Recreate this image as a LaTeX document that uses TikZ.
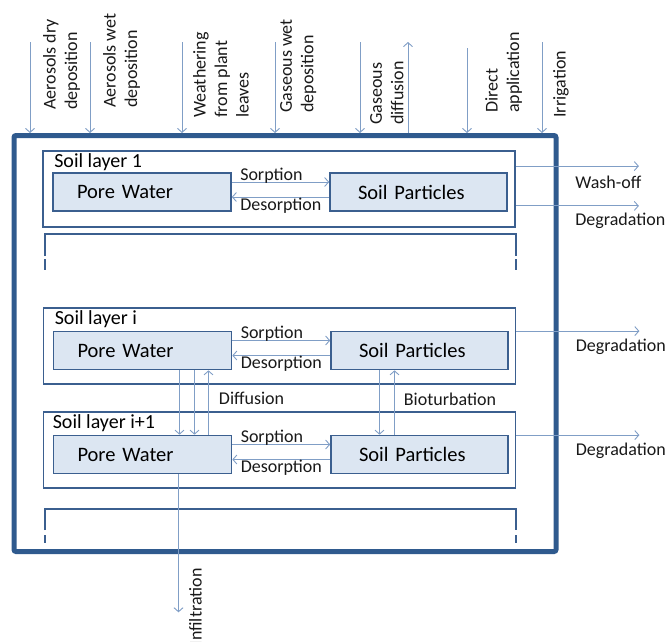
\documentclass[tikz,border=0pt]{standalone}
\usepackage{fontspec}
\setmainfont{Carlito}
\usetikzlibrary{arrows.meta,positioning,calc}
\definecolor{frameblue}{HTML}{2F5A8E}
\definecolor{layerline}{HTML}{3B5F8F}
\definecolor{poolfill}{HTML}{DCE6F2}
\definecolor{flowline}{HTML}{809EC6}

\begin{document}
\begin{tikzpicture}[x=1pt,y=-1pt,>={Straight Barb[length=4pt,width=9pt]},
 font=\fontsize{18}{21.5}\selectfont,
 soilframe/.style={draw=frameblue,line width=5pt,rounded corners=2pt,minimum width=542pt,minimum height=416pt},
 layerbox/.style={draw=layerline,line width=1.8pt,minimum width=472pt,minimum height=76pt},
 pool/.style={draw=layerline,line width=1.6pt,fill=poolfill,minimum height=38pt,align=left,font=\fontsize{20.5}{24}\selectfont},
 water/.style={pool,inner xsep=24pt,text width=130pt},
 grains/.style={pool,inner xsep=28pt,text width=121pt},
 layertitle/.style={anchor=base west,inner sep=0pt,font=\fontsize{20}{24}\selectfont},
 flow/.style={->,flowline,line width=0.9pt},
 flowtag/.style={inner sep=0pt,text=black!90},
 bracketline/.style={layerline,line width=1.8pt}]
\useasboundingbox (0,0) rectangle (665,641);

% soil column and layers
\node[soilframe] (soil) at (285,343.5) {};
\node[layerbox] (layer1) at (279,189) {};
\node[layerbox] (layeri) at (279.5,346) {};
\node[layerbox] (layerj) at (279.5,450) {};
\node[layertitle] (t1) at ([xshift=12pt,yshift=-17.5pt]layer1.north west) {Soil layer 1};
\node[layertitle] (ti) at ([xshift=12pt,yshift=-17.5pt]layeri.north west) {Soil layer i};
\node[layertitle] (tj) at ([xshift=10pt,yshift=-17.5pt]layerj.north west) {Soil layer i+1};

\node[water] (pw1) at (142,192) {Pore Water};
\node[grains] (sp1) at (418.5,192) {Soil Particles};
\node[water] (pwi) at (142.5,350.5) {Pore Water};
\node[grains] (spi) at (419.5,350.5) {Soil Particles};
\node[water] (pwj) at (142.5,454.5) {Pore Water};
\node[grains] (spj) at (419.5,454.5) {Soil Particles};

% open layers below
\draw[bracketline] (45,256) |- (516,234) -- (516,256);
\draw[bracketline] (45,259) -- (45,270) (516,259) -- (516,270);
\draw[bracketline] (45,530) |- (516,509) -- (516,530);
\draw[bracketline] (45,535) -- (45,543) (516,535) -- (516,543);

% sorption / desorption
\foreach \w/\s in {pw1/sp1,pwi/spi,pwj/spj}{
  \draw[flow] ([yshift=10pt]\w.east) -- node[pos=0,flowtag,anchor=base west,xshift=8pt,yshift=2pt] (sorb\w) {Sorption} ([yshift=10pt]\s.west);
  \draw[flow] ([yshift=-5pt]\s.west) -- node[pos=1,flowtag,anchor=base west,xshift=8pt,yshift=-13pt] (desorb\w) {Desorption} ([yshift=-5pt]\w.east);
}

% exchange between layers
\draw[flow] ([xshift=37pt]pwi.south) -- ([xshift=37pt]pwj.north);
\draw[flow] ([xshift=52pt]pwi.south) -- ([xshift=52pt]pwj.north);
\draw[flow] ([xshift=66pt]pwj.north) -- node[flowtag,anchor=base west,xshift=10pt,yshift=-1.5pt] (diff) {Diffusion} ([xshift=66pt]pwi.south);
\draw[flow] ([xshift=-40pt]spi.south) -- ([xshift=-40pt]spj.north);
\draw[flow] ([xshift=-25pt]spj.north) -- node[flowtag,anchor=base west,xshift=9pt,yshift=-2.5pt] (biot) {Bioturbation} ([xshift=-25pt]spi.south);

% losses to the right
\draw[flow] ([yshift=-16pt]layer1.north east) -- ++(123,0) node[flowtag,anchor=base west,xshift=-64pt,yshift=-22pt] (wash) {Wash-off};
\draw[flow] ([yshift=22pt]layer1.south east) -- ++(123,0) node[flowtag,anchor=base west,xshift=-64pt,yshift=-20pt] (deg1) {Degradation};
\draw[flow] ([yshift=-24pt]layeri.north east) -- ++(123,0) node[flowtag,anchor=base west,xshift=-64pt,yshift=-20pt] (degi) {Degradation};
\draw[flow] ([yshift=-24pt]layerj.north east) -- ++(123,0) node[flowtag,anchor=base west,xshift=-64pt,yshift=-20pt] (degj) {Degradation};

% inputs from above
\foreach \x/\y in {30/42,90/42,182/42,275/42,360/42,467/48,542/42}
  \draw[flow] (\x,\y) -- (\x,0 |- soil.north);
\draw[flow] (408,0 |- soil.north) -- (408,42);
\foreach \x/\y/\t [count=\i] in {43/110/{Aerosols dry\\deposition},103/108/{Aerosols wet\\deposition},193/118/{Weathering\\from plant\\leaves},280/113/{Gaseous wet\\deposition},370/125/{Gaseous\\diffusion},485/113/{Direct\\application},553/118/{Irrigation}}
  \node[flowtag,rotate=90,anchor=north west,align=left] (in\i) at (\x,\y) {\t};

% leaching
\draw[flow] ([xshift=36pt]pwj.south) -- ++(0,138) coordinate (sink);
\node[flowtag,rotate=90,anchor=base east] (infil) at ($(sink)+(23,-44)$) {Infiltration};
\end{tikzpicture}
\end{document}
